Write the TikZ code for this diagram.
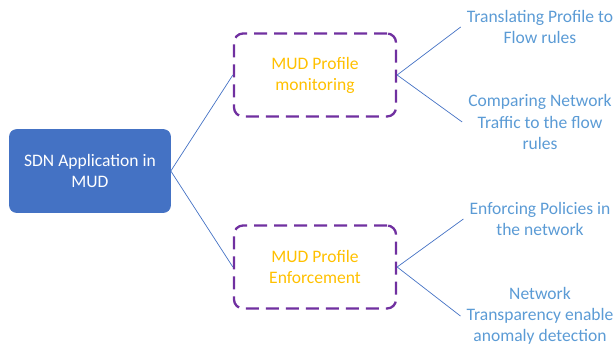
\documentclass[tikz,border=0pt]{standalone}
\usepackage{fontspec}
\setmainfont{Carlito}
\definecolor{rootblue}{HTML}{4472C4}
\definecolor{dashpurple}{HTML}{7030A0}
\definecolor{goldtext}{HTML}{FFC000}
\definecolor{leafblue}{HTML}{5B9BD5}
\definecolor{linkblue}{HTML}{4472C4}
\begin{document}
\begin{tikzpicture}[x=1bp,y=-1bp,
  every node/.style={font=\fontsize{17.6}{21.2}\selectfont, align=center},
  rootbox/.style={rectangle, rounded corners=7bp, fill=rootblue, draw=rootblue,
    line width=0.6bp, text=white, minimum width=161bp, minimum height=83bp, inner sep=0pt},
  phasebox/.style={rectangle, rounded corners=9bp, draw=dashpurple, line width=2.3bp,
    dash pattern=on 13bp off 7bp, text=goldtext, minimum width=162bp,
    minimum height=83bp, inner sep=0pt},
  leaf/.style={text=leafblue, inner xsep=6bp, inner ysep=0pt},
  link/.style={draw=linkblue, line width=0.7bp}]
\useasboundingbox (0,0) rectangle (615,347);

% root of the tree
\node[rootbox] (root) at (90,171) {SDN Application in\\MUD};

% the two MUD profile phases
\node[phasebox] (mon) at (315,75) {MUD Profile\\monitoring};
\node[phasebox] (enf) at (315,267) {MUD Profile\\Enforcement};

% tasks of each phase
\node[leaf] (transl) at (540,27) {Translating Profile to\\Flow rules};
\node[leaf] (compare) at (540,122) {Comparing Network\\Traffic to the flow\\rules};
\node[leaf] (policies) at (540,219) {Enforcing Policies in\\the network};
\node[leaf] (transp) at (540,316) {Network\\Transparency enable\\anomaly detection};

% connectors
\draw[link] (root.east) -- (mon.west);
\draw[link] (root.east) -- (enf.west);
\draw[link] (mon.east) -- (transl.west);
\draw[link] (mon.east) -- (compare.west);
\draw[link] (enf.east) -- (policies.west);
\draw[link] (enf.east) -- (transp.west);
\end{tikzpicture}
\end{document}
